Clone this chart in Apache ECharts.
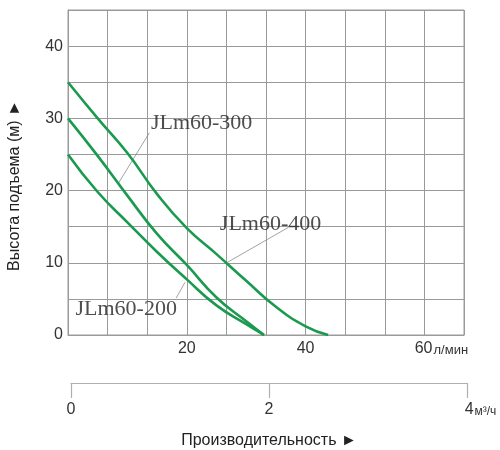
<!DOCTYPE html>
<html>
<head>
<meta charset="utf-8">
<script src="https://cdn.jsdelivr.net/npm/echarts@6/dist/echarts.min.js"></script>
<style>
  html, body { margin: 0; padding: 0; background: #fff; }
  #chart { width: 500px; height: 450px; }
</style>
</head>
<body>
<div id="chart"></div>
<script>
// кривые напора: [расход л/мин, напор м]
var curve200 = [[0, 25], [5, 19.8], [10, 15.6], [15, 11.5], [20, 7.7], [25, 4.1], [30, 1.5], [33, 0]];
var curve300 = [[0, 30], [5, 24.8], [10, 19.3], [15, 14.0], [20, 9.7], [25, 5.2], [30, 1.9], [33, 0]];
var curve400 = [[0, 35], [5, 30], [10, 25.2], [15, 19.5], [20, 14.8], [25, 11.2], [30, 7.5], [35, 3.9], [40, 1.2], [43.8, 0]];

var modelNames = ['JLm60-200', 'JLm60-300', 'JLm60-400'];
// подписи моделей (центр текста) и выноски: точка на кривой -> конец у подписи
var labelPos = [[9.8, 3.6], [22.5, 29.3], [34.1, 15.3]];
var leader200 = [[19.7, 7.3], [18.2, 5.1]];
var leader300 = [[8.4, 20.9], [13.7, 28.0]];
var leader400 = [[26.7, 10], [37.1, 14.9]];

var flowMax = 200 / 3;      // л/мин, 10 клеток
var flowStep = 20 / 3;
var flowLabels = [20, 40, 60];
var headMax = 45;
var headStep = 5;
var headLabels = [0, 10, 20, 30, 40];
var m3Labels = [0, 2, 4];

var green = '#1a9a4e';
var gridColor = '#9a9a9a';
var font = 'Liberation Sans';

function near(v, list) {
    for (var i = 0; i < list.length; i++) {
        if (Math.abs(v - list[i]) < 1e-6) return list[i];
    }
    return null;
}

function curveSeries(data) {
    return {
        type: 'line', data: data, smooth: 0.5, symbol: 'none',
        lineStyle: { color: green, width: 2.6 }, z: 5
    };
}

function leaderSeries(data) {
    return {
        type: 'line', data: data, symbol: 'none', silent: true,
        lineStyle: { color: '#8c8c8c', width: 0.8 }, z: 4
    };
}

var myChart = echarts.init(document.getElementById('chart'));

var option = {
    animation: false,
    backgroundColor: '#fff',
    grid: [
        { left: 68, right: 36, top: 10, bottom: 115, outerBoundsMode: 'none',
          show: true, borderColor: gridColor, borderWidth: 1 },
        { left: 71, right: 33, top: 10, bottom: 115, outerBoundsMode: 'none', show: false }
    ],
    xAxis: [{
        type: 'value', gridIndex: 0, min: 0, max: flowMax, interval: flowStep,
        axisLine: { show: true, lineStyle: { color: gridColor } },
        axisTick: { show: false },
        splitLine: { show: true, lineStyle: { color: gridColor, width: 1 } },
        axisLabel: {
            margin: 6, color: '#333', fontFamily: font, fontSize: 16,
            formatter: function (v) {
                var n = near(v, flowLabels);
                if (n === null) return '';
                if (n === 60) return '{a|60}{u|л/мин}';
                return String(n);
            },
            rich: {
                a: { fontSize: 16, fontFamily: font, color: '#333', padding: [0, 0, 0, 34] },
                u: { fontSize: 13, fontFamily: font, color: '#333', padding: [3, 0, 0, 1] }
            }
        }
    }, {
        type: 'value', gridIndex: 1, position: 'bottom', offset: 48, min: 0, max: 4, interval: 2,
        axisLine: { show: true, onZero: false, lineStyle: { color: '#b0b0b0', width: 1.2 } },
        axisTick: { show: true, inside: false, length: 15, lineStyle: { color: '#b0b0b0', width: 1.2 } },
        splitLine: { show: false },
        axisLabel: {
            margin: 19, color: '#333', fontFamily: font, fontSize: 16,
            formatter: function (v) {
                var n = near(v, m3Labels);
                if (n === null) return '';
                if (n === 4) return '{a|4}{u|м³/ч}';
                return String(n);
            },
            rich: {
                a: { fontSize: 16, fontFamily: font, color: '#333', padding: [0, 0, 0, 27] },
                u: { fontSize: 12, fontFamily: font, color: '#333', padding: [3, 0, 0, 1] }
            }
        },
        name: 'Производительность ►',
        nameLocation: 'middle', nameGap: 50,
        nameTextStyle: { color: '#222', fontFamily: font, fontSize: 16 }
    }],
    yAxis: [{
        type: 'value', gridIndex: 0, min: 0, max: headMax, interval: headStep,
        axisLine: { show: true, lineStyle: { color: gridColor } },
        axisTick: { show: false },
        splitLine: { show: true, lineStyle: { color: gridColor, width: 1 } },
        axisLabel: {
            margin: 5, color: '#333', fontFamily: font, fontSize: 16,
            formatter: function (v) {
                var n = near(v, headLabels);
                return n === null ? '' : String(n);
            }
        },
        name: 'Высота подъема (м) ►',
        nameLocation: 'middle', nameGap: 45,
        nameTextStyle: { color: '#222', fontFamily: font, fontSize: 16, padding: [0, 26, 0, 0] }
    }, {
        type: 'value', gridIndex: 1, show: false, min: 0, max: headMax
    }],
    series: [
        curveSeries(curve200),
        curveSeries(curve300),
        curveSeries(curve400),
        leaderSeries(leader200),
        leaderSeries(leader300),
        leaderSeries(leader400),
        {
            type: 'scatter', symbolSize: 0, silent: true, z: 6,
            data: labelPos.map(function (p, i) { return { value: p, name: modelNames[i] }; }),
            label: {
                show: true, position: 'inside', formatter: '{b}',
                color: '#222', fontFamily: 'Liberation Serif', fontSize: 22
            }
        }
    ]
};

myChart.setOption(option);
</script>
</body>
</html>
